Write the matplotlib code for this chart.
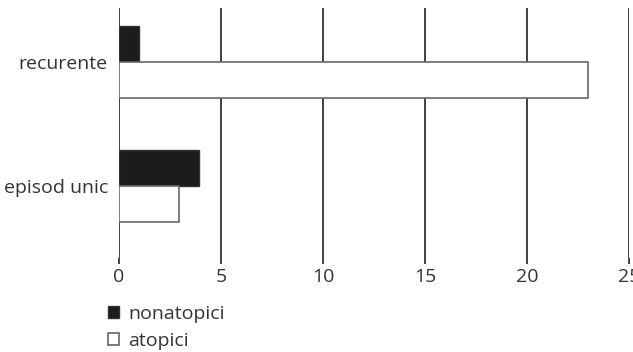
import matplotlib
matplotlib.use("Agg")
import matplotlib.pyplot as plt
import numpy as np

categories = ["episod unic", "recurente"]
nonatopici = [3.9, 1]
atopici = [2.95, 23]
xticks = [0, 5, 10, 15, 20, 25]

plt.rcParams['font.family'] = ['Open Sans', 'DejaVu Sans']

fig = plt.figure(figsize=(6.33, 3.52), dpi=100)
fig.patch.set_facecolor('white')
ax = fig.add_axes([119/633, 1-258/352, (629-119)/633, (258-8)/352])

y = np.arange(len(categories))
h = 0.29
ax.barh(y + h/2, nonatopici, height=h, color='#1e1b1b', edgecolor='#333333', linewidth=1, label='nonatopici', zorder=3)
ax.barh(y - h/2, atopici, height=h, color='white', edgecolor='#666666', linewidth=1.2, label='atopici', zorder=3)

ax.set_xlim(0, 25)
ax.set_ylim(-0.58, 1.435)
ax.set_xticks(xticks)
ax.set_xticklabels([str(t) for t in xticks], fontsize=14, color='#333333')
ax.set_yticks(y)
ax.set_yticklabels(categories, fontsize=14, color='#333333')
ax.tick_params(axis='y', length=0, pad=8)
ax.tick_params(axis='x', length=4, width=1.3, color='#333333', pad=3)
for s in ax.spines.values():
    s.set_visible(False)
ax.grid(axis='x', color='#333333', linewidth=1.3, zorder=0)
ax.set_axisbelow(True)

handles, labels = ax.get_legend_handles_labels()
leg = fig.legend(handles, labels, loc='upper left', bbox_to_anchor=(100/633, 1-297/352),
                 frameon=False, fontsize=14, handlelength=0.6, handleheight=0.6,
                 handletextpad=0.45, labelspacing=0.45, borderaxespad=0, labelcolor='#333333')

fig.savefig('out.png', dpi=100, facecolor='white')
